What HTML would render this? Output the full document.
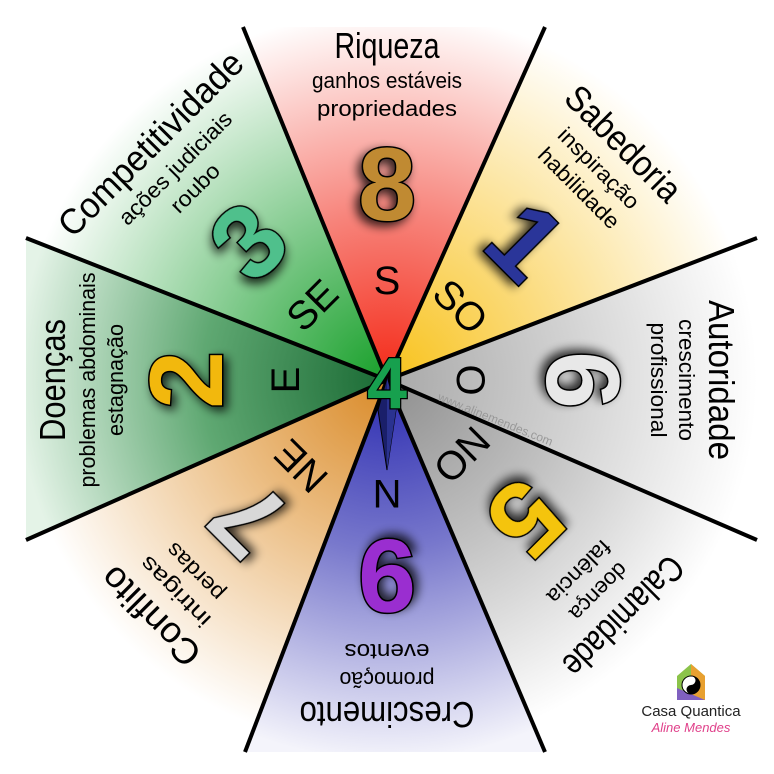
<!DOCTYPE html>
<html><head><meta charset="utf-8"><style>
html,body{margin:0;padding:0;background:#fff;width:774px;height:774px;overflow:hidden;}
svg{display:block;overflow:hidden;}
text{font-family:"Liberation Sans Narrow","Liberation Sans",sans-serif;}
</style></head><body>
<svg width="774" height="774" viewBox="0 0 774 774" xmlns="http://www.w3.org/2000/svg">
<defs>
<clipPath id="clip"><rect x="0" y="0" width="774" height="774"/></clipPath>
<radialGradient id="gS" gradientUnits="userSpaceOnUse" cx="387" cy="380" r="370"><stop offset="0" stop-color="#f42a18"/><stop offset="0.45" stop-color="#f7837a"/><stop offset="1" stop-color="#fff"/></radialGradient>
<radialGradient id="gSO" gradientUnits="userSpaceOnUse" cx="387" cy="380" r="370"><stop offset="0" stop-color="#f8c21a"/><stop offset="0.45" stop-color="#fbdc80"/><stop offset="1" stop-color="#fff"/></radialGradient>
<radialGradient id="gO" gradientUnits="userSpaceOnUse" cx="387" cy="380" r="370"><stop offset="0" stop-color="#a8a8a8"/><stop offset="0.5" stop-color="#d2d2d2"/><stop offset="1" stop-color="#fff"/></radialGradient>
<radialGradient id="gNO" gradientUnits="userSpaceOnUse" cx="387" cy="380" r="370"><stop offset="0" stop-color="#8e8e8e"/><stop offset="0.5" stop-color="#c4c4c4"/><stop offset="1" stop-color="#fff"/></radialGradient>
<radialGradient id="gN" gradientUnits="userSpaceOnUse" cx="387" cy="380" r="380"><stop offset="0" stop-color="#2a2ab0"/><stop offset="0.45" stop-color="#7878cc"/><stop offset="1" stop-color="#f4f4fb"/></radialGradient>
<radialGradient id="gNE" gradientUnits="userSpaceOnUse" cx="387" cy="380" r="370"><stop offset="0" stop-color="#d98a28"/><stop offset="0.45" stop-color="#ecbf86"/><stop offset="1" stop-color="#fff"/></radialGradient>
<radialGradient id="gE" gradientUnits="userSpaceOnUse" cx="387" cy="380" r="370"><stop offset="0" stop-color="#1a6a34"/><stop offset="0.5" stop-color="#5fa872"/><stop offset="1" stop-color="#e4f3e7"/></radialGradient>
<radialGradient id="gSE" gradientUnits="userSpaceOnUse" cx="387" cy="380" r="370"><stop offset="0" stop-color="#18a02a"/><stop offset="0.45" stop-color="#7ec98a"/><stop offset="1" stop-color="#fff"/></radialGradient>
<filter id="sh" x="-50%" y="-50%" width="200%" height="200%"><feGaussianBlur in="SourceAlpha" stdDeviation="5"/><feOffset dx="-4" dy="4"/><feComponentTransfer><feFuncA type="linear" slope="0.8"/></feComponentTransfer><feMerge><feMergeNode/><feMergeNode in="SourceGraphic"/></feMerge></filter>
</defs>
<g clip-path="url(#clip)">
<polygon points="387,380 99,-326 703,-326" fill="url(#gS)"/>
<polygon points="387,380 703,-326 1127,96" fill="url(#gSO)"/>
<polygon points="387,380 1127,96 1127,700" fill="url(#gO)"/>
<polygon points="387,380 1127,700 703,1124" fill="url(#gNO)"/>
<polygon points="387,380 703,1124 103,1124" fill="url(#gN)"/>
<polygon points="387,380 103,1124 -335,700" fill="url(#gNE)"/>
<polygon points="387,380 -335,700 -335,96" fill="url(#gE)"/>
<polygon points="387,380 -335,96 99,-326" fill="url(#gSE)"/>
</g>
<rect x="0" y="0" width="774" height="27" fill="#fff"/>
<rect x="0" y="752" width="774" height="22" fill="#fff"/>
<rect x="0" y="0" width="26" height="774" fill="#fff"/>
<rect x="757" y="0" width="17" height="774" fill="#fff"/>
<g stroke="#000" stroke-width="4" stroke-linecap="butt">
<line x1="387" y1="380" x2="243" y2="27"/><line x1="387" y1="380" x2="545" y2="27"/>
<line x1="387" y1="380" x2="757" y2="238"/><line x1="387" y1="380" x2="757" y2="540"/>
<line x1="387" y1="380" x2="545" y2="752"/><line x1="387" y1="380" x2="245" y2="752"/>
<line x1="387" y1="380" x2="26" y2="540"/><line x1="387" y1="380" x2="26" y2="238"/>
</g>
<polygon points="378,410 387,378 396,410 387,470" fill="#1a1f6a" stroke="#000" stroke-width="1"/>
<polygon points="387,378 396,410 387,470" fill="#2a3290"/>
<text x="437" y="400" font-size="12" fill="#999" transform="rotate(22 437 400)" font-family="Liberation Sans, sans-serif">www.alinemendes.com</text>

<g transform="translate(387 380) rotate(0)" text-anchor="middle">
<text y="-322" font-size="36" textLength="105" lengthAdjust="spacingAndGlyphs">Riqueza</text>
<text y="-292" font-size="22" textLength="150" lengthAdjust="spacingAndGlyphs">ganhos estáveis</text>
<text y="-264" font-size="22" textLength="140" lengthAdjust="spacingAndGlyphs">propriedades</text>
<text y="-160" font-size="104" font-weight="bold" fill="#c08a32" stroke="#000" stroke-width="3" paint-order="stroke" filter="url(#sh)" font-family="Liberation Sans, sans-serif">8</text>
<text y="-86" font-size="40">S</text>
</g>
<g transform="translate(387 380) rotate(45)" text-anchor="middle">
<text y="-322" font-size="36" textLength="148" lengthAdjust="spacingAndGlyphs">Sabedoria</text>
<text y="-292" font-size="22" textLength="105" lengthAdjust="spacingAndGlyphs">inspiração</text>
<text y="-264" font-size="22" textLength="105" lengthAdjust="spacingAndGlyphs">habilidade</text>
<text y="-160" font-size="104" font-weight="bold" fill="#2c3599" stroke="#000" stroke-width="3" paint-order="stroke" filter="url(#sh)" font-family="Liberation Sans, sans-serif">1</text>
<text y="-90" font-size="40">SO</text>
</g>
<g transform="translate(387 380) rotate(90)" text-anchor="middle">
<text y="-322" font-size="36" textLength="160" lengthAdjust="spacingAndGlyphs">Autoridade</text>
<text y="-292" font-size="22" textLength="122" lengthAdjust="spacingAndGlyphs">crescimento</text>
<text y="-264" font-size="22" textLength="115" lengthAdjust="spacingAndGlyphs">profissional</text>
<text y="-160" font-size="104" font-weight="bold" fill="#e8e8e8" stroke="#000" stroke-width="3" paint-order="stroke" filter="url(#sh)" font-family="Liberation Sans, sans-serif">6</text>
<text y="-70" font-size="40">O</text>
</g>
<g transform="translate(387 380) rotate(135)" text-anchor="middle">
<text y="-322" font-size="36" textLength="155" lengthAdjust="spacingAndGlyphs">Calamidade</text>
<text y="-292" font-size="22" textLength="72" lengthAdjust="spacingAndGlyphs">doença</text>
<text y="-264" font-size="22" textLength="80" lengthAdjust="spacingAndGlyphs">falência</text>
<text y="-160" font-size="104" font-weight="bold" fill="#f4c40e" stroke="#000" stroke-width="3" paint-order="stroke" filter="url(#sh)" font-family="Liberation Sans, sans-serif">5</text>
<text y="-92" font-size="40">NO</text>
</g>
<g transform="translate(387 380) rotate(180)" text-anchor="middle">
<text y="-322" font-size="36" textLength="175" lengthAdjust="spacingAndGlyphs">Crescimento</text>
<text y="-292" font-size="22" textLength="95" lengthAdjust="spacingAndGlyphs">promoção</text>
<text y="-264" font-size="22" textLength="85" lengthAdjust="spacingAndGlyphs">eventos</text>
<text y="-160" font-size="104" font-weight="bold" fill="#9a2ed0" stroke="#000" stroke-width="3" paint-order="stroke" filter="url(#sh)" font-family="Liberation Sans, sans-serif">9</text>
<text y="-100" font-size="40">N</text>
</g>
<g transform="translate(387 380) rotate(225)" text-anchor="middle">
<text y="-322" font-size="36" textLength="125" lengthAdjust="spacingAndGlyphs">Conflito</text>
<text y="-292" font-size="22" textLength="90" lengthAdjust="spacingAndGlyphs">intrigas</text>
<text y="-264" font-size="22" textLength="72" lengthAdjust="spacingAndGlyphs">perdas</text>
<text y="-160" font-size="104" font-weight="bold" fill="#d8d8d8" stroke="#000" stroke-width="3" paint-order="stroke" filter="url(#sh)" font-family="Liberation Sans, sans-serif">7</text>
<text y="-108" font-size="40">NE</text>
</g>
<g transform="translate(387 380) rotate(270)" text-anchor="middle">
<text y="-322" font-size="36" textLength="122" lengthAdjust="spacingAndGlyphs">Doenças</text>
<text y="-292" font-size="22" textLength="215" lengthAdjust="spacingAndGlyphs">problemas abdominais</text>
<text y="-264" font-size="22" textLength="112" lengthAdjust="spacingAndGlyphs">estagnação</text>
<text y="-165" font-size="104" font-weight="bold" fill="#f2b80c" stroke="#000" stroke-width="3" paint-order="stroke" filter="url(#sh)" font-family="Liberation Sans, sans-serif">2</text>
<text y="-88" font-size="40">E</text>
</g>
<g transform="translate(387 380) rotate(-45)" text-anchor="middle">
<text y="-322" font-size="36" textLength="245" lengthAdjust="spacingAndGlyphs">Competitividade</text>
<text y="-292" font-size="22" textLength="150" lengthAdjust="spacingAndGlyphs">ações judiciais</text>
<text y="-264" font-size="22" textLength="60" lengthAdjust="spacingAndGlyphs">roubo</text>
<text y="-160" font-size="104" font-weight="bold" fill="#4fc08c" stroke="#000" stroke-width="3" paint-order="stroke" filter="url(#sh)" font-family="Liberation Sans, sans-serif">3</text>
<text y="-92" font-size="40">SE</text>
</g>
<text x="387" y="408" text-anchor="middle" font-size="72" font-weight="bold" fill="#17a04e" stroke="#000" stroke-width="2.5" paint-order="stroke" font-family="Liberation Sans, sans-serif">4</text>

<polygon points="677,700 677,676 691,664 705,676 705,700" fill="#8bc34a"/>
<polygon points="691,664 705,676 705,700 691,700" fill="#e8a030"/>
<polygon points="677,688 705,700 677,700" fill="#8060c0"/>
<circle cx="691" cy="685" r="9" fill="#fff" stroke="#000" stroke-width="1"/>
<path d="M691,676 A9,9 0 0 1 691,694 A4.5,4.5 0 0 1 691,685 A4.5,4.5 0 0 0 691,676Z" fill="#000"/>
<text x="691" y="716" text-anchor="middle" font-size="15" fill="#222" font-family="Liberation Sans, sans-serif">Casa Quantica</text>
<text x="691" y="732" text-anchor="middle" font-size="13" font-style="italic" fill="#e0408a" font-family="Liberation Serif, serif">Aline Mendes</text>
</svg>
</body></html>
